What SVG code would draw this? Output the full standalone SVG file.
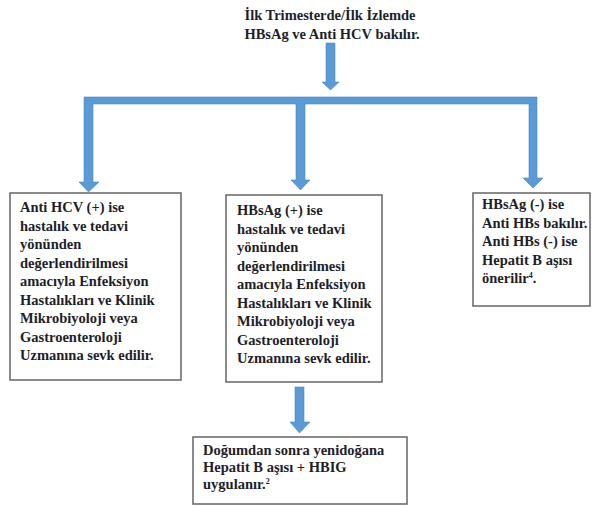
<svg xmlns="http://www.w3.org/2000/svg" width="595" height="507" viewBox="0 0 595 507">
<style>
.t{font-family:'Liberation Serif','Times New Roman','DejaVu Serif',serif;font-weight:700;font-size:14.5px;fill:#1e1e28}
.box{fill:#fff;stroke:#6e6e6e;stroke-width:1.6}
.arr{fill:#5b9bd5;stroke:#4a88c4;stroke-width:0.6}
.sup{font-size:8px}
</style>
<rect width="595" height="507" fill="#fff"/>
<g id="title">
<text class="t" x="330" y="20" text-anchor="middle" font-family="Liberation Serif, serif">İlk Trimesterde/İlk İzlemde</text>
<text class="t" x="332" y="39" text-anchor="middle" font-family="Liberation Serif, serif">HBsAg ve Anti HCV bakılır.</text>
</g>
<g id="connectors">
<polygon class="arr" points="326,43 335,43 335,82 339,82 330.5,90 322,82 326,82"/>
<polygon class="arr" points="84,97 537,97 537,178 543,178 533,188 523,178 529,178 529,104 305,104 305,180 310,180 300.5,190 291,180 296,180 296,104 93,104 93,182 99,182 88.5,192 79,182 84,182"/>
<polygon class="arr" points="295,387 304,387 304,422 310,422 299.5,433 290,422 295,422"/>
</g>
<g id="node-left">
<rect class="box" x="10" y="193" width="171" height="187"/>
<text class="t" x="20" y="212">Anti HCV (+) ise</text>
<text class="t" x="20" y="230.5">hastalık ve tedavi</text>
<text class="t" x="20" y="249">yönünden</text>
<text class="t" x="20" y="267.5">değerlendirilmesi</text>
<text class="t" x="20" y="286">amacıyla Enfeksiyon</text>
<text class="t" x="20" y="304.5">Hastalıkları ve Klinik</text>
<text class="t" x="20" y="323">Mikrobiyoloji veya</text>
<text class="t" x="20" y="341.5">Gastroenteroloji</text>
<text class="t" x="20" y="360">Uzmanına sevk edilir.</text>
</g>
<g id="node-middle">
<rect class="box" x="226" y="195" width="156" height="187"/>
<text class="t" x="237" y="215">HBsAg (+) ise</text>
<text class="t" x="237" y="233.5">hastalık ve tedavi</text>
<text class="t" x="237" y="252">yönünden</text>
<text class="t" x="237" y="270.5">değerlendirilmesi</text>
<text class="t" x="237" y="289">amacıyla Enfeksiyon</text>
<text class="t" x="237" y="307.5">Hastalıkları ve Klinik</text>
<text class="t" x="237" y="326">Mikrobiyoloji veya</text>
<text class="t" x="237" y="344.5">Gastroenteroloji</text>
<text class="t" x="237" y="363">Uzmanına sevk edilir.</text>
</g>
<g id="node-right">
<rect class="box" x="473" y="193" width="117" height="113"/>
<text class="t" x="482" y="209">HBsAg (-) ise</text>
<text class="t" x="482" y="227.5">Anti HBs bakılır.</text>
<text class="t" x="482" y="246">Anti HBs (-) ise</text>
<text class="t" x="482" y="264.5">Hepatit B aşısı</text>
<text class="t" x="482" y="283">önerilir<tspan class="sup" dy="-5">4</tspan><tspan dy="5">.</tspan></text>
</g>
<g id="node-bottom">
<rect class="box" x="193" y="437" width="214" height="67"/>
<text class="t" x="203" y="455">Doğumdan sonra yenidoğana</text>
<text class="t" x="203" y="472">Hepatit B aşısı + HBIG</text>
<text class="t" x="203" y="489">uygulanır.<tspan class="sup" dy="-5">2</tspan></text>
</g>
</svg>
